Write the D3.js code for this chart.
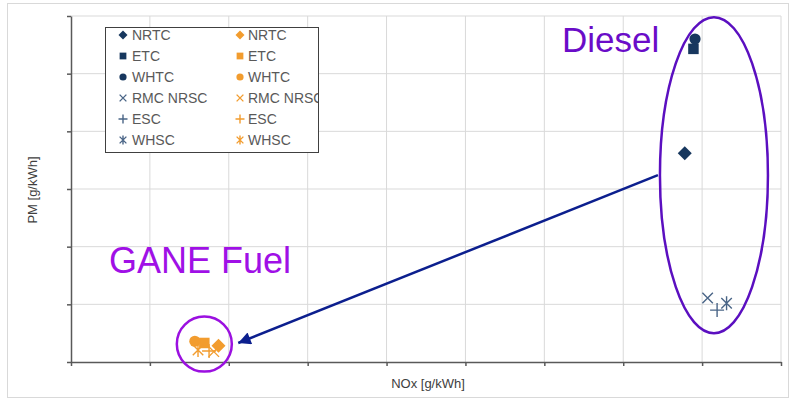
<!DOCTYPE html>
<html><head><meta charset="utf-8">
<script src="https://cdn.jsdelivr.net/npm/d3@7"></script>
<style>body{margin:0;background:#fff}svg{display:block;font-family:"Liberation Sans",Arial,sans-serif}</style>
</head><body><svg id="c" width="795" height="401"></svg>
<script>
// Data (NOx in arbitrary axis units, PM in arbitrary axis units; axis numbers hidden in original)
const cycles = ["NRTC","ETC","WHTC","RMC NRSC","ESC","WHSC"];
const shapes = ["diamond","square","circle","x","plus","asterisk"];
const dieselNOx = [7.78, 7.89, 7.91, 8.07, 8.19, 8.31];
const dieselPM  = [0.0362, 0.0543, 0.0560, 0.0111, 0.0090, 0.0102];
const ganeNOx   = [1.87, 1.69, 1.57, 1.81, 1.75, 1.61];
const ganePM    = [0.0028, 0.0033, 0.0036, 0.0018, 0.0019, 0.0021];
const xTicks = [0,1,2,3,4,5,6,7,8,9];
const yTicks = [0,0.01,0.02,0.03,0.04,0.05,0.06];
const colDiesel = "#17375e", colGane = "#f29c2e";

const svg = d3.select("#c");
svg.append("rect").attr("x",7.5).attr("y",3.5).attr("width",781).attr("height",394)
  .attr("fill","none").attr("stroke","#d9d9d9");

const m = {l:71, r:781, t:16, b:362};
const x = d3.scaleLinear().domain([0,9]).range([m.l,m.r]);
const y = d3.scaleLinear().domain([0,0.06]).range([m.b,m.t]);

// gridlines
svg.append("g").selectAll("line").data(xTicks.slice(1)).join("line")
  .attr("x1",d=>x(d)).attr("x2",d=>x(d)).attr("y1",m.t).attr("y2",m.b)
  .attr("stroke","#d9d9d9").attr("stroke-width",1);
svg.append("g").selectAll("line").data(yTicks.slice(1)).join("line")
  .attr("x1",m.l).attr("x2",m.r).attr("y1",d=>y(d)).attr("y2",d=>y(d))
  .attr("stroke","#d9d9d9").attr("stroke-width",1);

// axes
const xa = svg.append("g").attr("transform",`translate(0,${m.b})`)
  .call(d3.axisBottom(x).tickValues(xTicks).tickFormat("").tickSize(4).tickSizeOuter(0));
const ya = svg.append("g").attr("transform",`translate(${m.l},0)`)
  .call(d3.axisLeft(y).tickValues(yTicks).tickFormat("").tickSize(4).tickSizeOuter(0));
[xa,ya].forEach(a=>{a.selectAll("path,line").attr("stroke","#595959").attr("stroke-width",1.5);});

svg.append("text").attr("x",428).attr("y",388).attr("text-anchor","middle")
  .attr("font-size",13).attr("fill","#404040").text("NOx [g/kWh]");
svg.append("text").attr("transform","translate(37,190) rotate(-90)").attr("text-anchor","middle")
  .attr("font-size",13).attr("fill","#404040").text("PM [g/kWh]");

function marker(g, shape, s, color){
  if(shape==="diamond"){
    g.append("path").attr("d",`M0,${-s}L${s},0L0,${s}L${-s},0Z`).attr("fill",color);
  } else if(shape==="square"){
    g.append("rect").attr("x",-s*0.75).attr("y",-s*0.75).attr("width",s*1.5).attr("height",s*1.5).attr("fill",color);
  } else if(shape==="circle"){
    g.append("circle").attr("r",s*0.8).attr("fill",color);
  } else {
    let d="";
    const h=s*0.75;
    if(shape==="x") d=`M${-h},${-h}L${h},${h}M${-h},${h}L${h},${-h}`;
    if(shape==="plus") d=`M${-s},0L${s},0M0,${-s}L0,${s}`;
    if(shape==="asterisk") d=`M${-h},${-h}L${h},${h}M${-h},${h}L${h},${-h}M0,${-s}L0,${s}`;
    g.append("path").attr("d",d).attr("stroke",color).attr("stroke-width",1.4).attr("fill","none");
  }
}

// data points
const pts = [];
cycles.forEach((c,i)=>{
  pts.push({nox:dieselNOx[i], pm:dieselPM[i], shape:shapes[i], color:colDiesel});
  pts.push({nox:ganeNOx[i], pm:ganePM[i], shape:shapes[i], color:colGane});
});
const pg = svg.append("g");
pts.forEach(p=>{
  const g = pg.append("g").attr("transform",`translate(${x(p.nox)},${y(p.pm)})`);
  const col = (p.color===colDiesel && ["x","plus","asterisk"].includes(p.shape)) ? "#4a6587" : p.color;
  marker(g, p.shape, 7, col);
});

// legend
const defs = svg.append("defs");
defs.append("clipPath").attr("id","lgclip").append("rect")
  .attr("x",105).attr("y",27).attr("width",213).attr("height",125);
const lg = svg.append("g");
lg.append("rect").attr("x",105.5).attr("y",27.5).attr("width",213).attr("height",125)
  .attr("fill","#fff").attr("stroke","#404040").attr("stroke-width",1);
const lgi = lg.append("g").attr("clip-path","url(#lgclip)");
cycles.forEach((c,i)=>{
  const yy = 35 + i*21;
  [[123,132,colDiesel],[240,248,colGane]].forEach(([mx,tx,col])=>{
    const g = lgi.append("g").attr("transform",`translate(${mx},${yy})`);
    const cc = (col===colDiesel && i>=3) ? "#4a6587" : col;
    marker(g, shapes[i], 4.5, cc);
    lgi.append("text").attr("x",tx).attr("y",yy+5).attr("font-size",14).attr("fill","#595959").text(c);
  });
});

// annotations
svg.append("ellipse").attr("cx",x(8.15)).attr("cy",y(0.0324)).attr("rx",54).attr("ry",158)
  .attr("fill","none").attr("stroke","#5b0fc0").attr("stroke-width",2.5);
svg.append("circle").attr("cx",x(1.69)).attr("cy",y(0.0031)).attr("r",27.5)
  .attr("fill","none").attr("stroke","#9b10e0").attr("stroke-width",2.5);
svg.append("text").attr("x",562).attr("y",52).attr("font-size",35).attr("fill","#6a0cc8").text("Diesel");
svg.append("text").attr("x",109).attr("y",273).attr("font-size",36).attr("fill","#a010e6").text("GANE Fuel");

// arrow
defs.append("marker").attr("id","ah").attr("viewBox","0 0 10 10").attr("refX",10).attr("refY",5)
  .attr("markerWidth",6).attr("markerHeight",5).attr("markerUnits","strokeWidth").attr("orient","auto")
  .append("path").attr("d","M0,0L10,5L0,10Z").attr("fill","#0c1f8e");
svg.append("line").attr("x1",x(7.44)).attr("y1",y(0.0324)).attr("x2",x(2.12)).attr("y2",y(0.0033))
  .attr("stroke","#0c1f8e").attr("stroke-width",2.5).attr("marker-end","url(#ah)");
</script></body></html>
